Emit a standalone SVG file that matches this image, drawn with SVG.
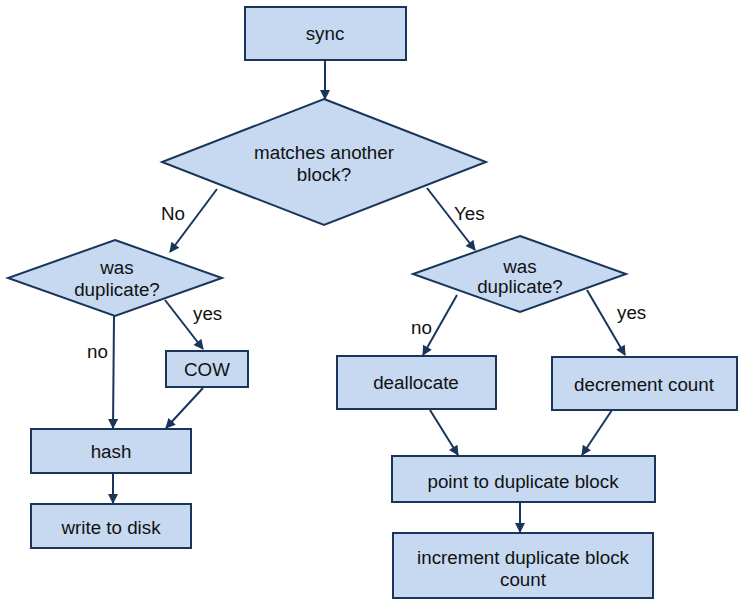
<svg xmlns="http://www.w3.org/2000/svg" width="738" height="601" viewBox="0 0 738 601">
<style>
.n{fill:#c6d9f1;stroke:#1a355a;stroke-width:2}
text{font-family:"Liberation Sans",Arial,sans-serif;font-size:18.8px;fill:#111;text-anchor:middle}
.c line{stroke:#1a355a;stroke-width:2;marker-end:url(#ah)}
.lbl{text-anchor:start}
</style>
<defs>
<marker id="ah" viewBox="0 0 10 10" refX="9" refY="5" markerWidth="11" markerHeight="10" markerUnits="userSpaceOnUse" orient="auto">
<path d="M0,0 L10,5 L0,10 z" fill="#1a355a"/>
</marker>
</defs>
<rect width="738" height="601" fill="#fff"/>
<g class="c" id="connectors">
<line x1="325" y1="60" x2="325" y2="99"/>
<line x1="217" y1="189" x2="170" y2="252"/>
<line x1="427" y1="188" x2="475" y2="250"/>
<line x1="165" y1="300" x2="203" y2="349"/>
<line x1="114" y1="316" x2="113" y2="428"/>
<line x1="203" y1="388" x2="166" y2="428"/>
<line x1="113" y1="473" x2="113" y2="503"/>
<line x1="457" y1="295" x2="423" y2="355"/>
<line x1="587" y1="290" x2="625" y2="355"/>
<line x1="430" y1="410" x2="458" y2="455"/>
<line x1="612" y1="410" x2="582" y2="455"/>
<line x1="520" y1="502" x2="520" y2="532"/>
</g>
<g id="labels">
<text class="lbl" x="161" y="220">No</text>
<text class="lbl" x="454" y="220">Yes</text>
<text class="lbl" x="193" y="320">yes</text>
<text class="lbl" x="87" y="358">no</text>
<text class="lbl" x="411" y="334">no</text>
<text class="lbl" x="617" y="319">yes</text>
</g>
<g id="sync"><rect class="n" x="245" y="7" width="161" height="53"/><text x="325" y="40">sync</text></g>
<g id="matches"><polygon class="n" points="324,99 486,162 324,225 162,162"/><text x="324" y="159">matches another</text><text x="324" y="181">block?</text></g>
<g id="wasdup1"><polygon class="n" points="115,240 222,278 115,316 8,278"/><text x="117" y="274">was</text><text x="117" y="296">duplicate?</text></g>
<g id="cow"><rect class="n" x="166" y="351" width="82" height="36"/><text x="207" y="376">COW</text></g>
<g id="hash"><rect class="n" x="31" y="429" width="160" height="44"/><text x="111" y="458">hash</text></g>
<g id="write"><rect class="n" x="31" y="504" width="160" height="44"/><text x="111" y="534">write to disk</text></g>
<g id="wasdup2"><polygon class="n" points="520,236 626,274 520,312 413,274"/><text x="520" y="273">was</text><text x="520" y="293">duplicate?</text></g>
<g id="dealloc"><rect class="n" x="337" y="356" width="159" height="53"/><text x="416" y="389">deallocate</text></g>
<g id="decrement"><rect class="n" x="552" y="357" width="185" height="53"/><text x="644" y="391">decrement count</text></g>
<g id="point"><rect class="n" x="392" y="456" width="263" height="46"/><text x="523" y="488">point to duplicate block</text></g>
<g id="increment"><rect class="n" x="393" y="533" width="260" height="65"/><text x="523" y="564">increment duplicate block</text><text x="523" y="586">count</text></g>
</svg>
